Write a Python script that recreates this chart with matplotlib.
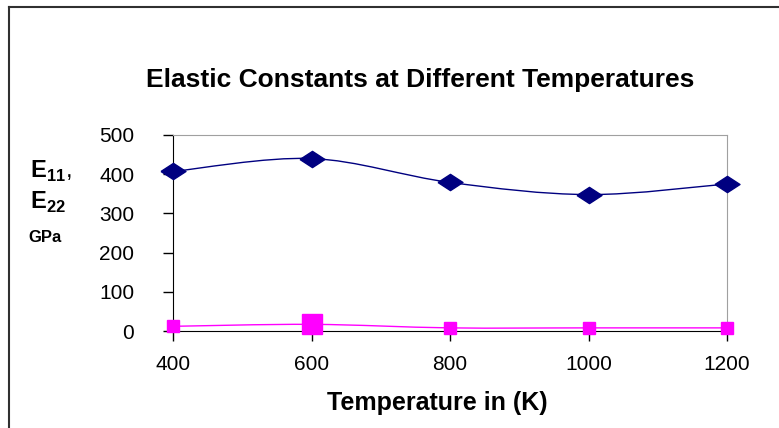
import matplotlib
matplotlib.use("Agg")
import matplotlib.pyplot as plt
import numpy as np
from matplotlib.path import Path
from matplotlib.patches import PathPatch
from matplotlib.lines import Line2D

# DONNEES
temps = [400, 600, 800, 1000, 1200]
e11 = [407, 440, 379, 348, 375]
e22 = [12, 17, 8, 8, 8]
xticks = [400, 600, 800, 1000, 1200]
yticks = [0, 100, 200, 300, 400, 500]

plt.rcParams['font.family'] = ['Liberation Sans', 'DejaVu Sans']
plt.rcParams['mathtext.fontset'] = 'custom'
plt.rcParams['mathtext.rm'] = 'Liberation Sans'
plt.rcParams['mathtext.bf'] = 'Liberation Sans:bold'


def smooth_path(x, y):
    # courbe lissee facon Excel (Catmull-Rom -> Bezier)
    p = np.column_stack([x, y]).astype(float)
    n = len(p)
    verts = [p[0]]
    codes = [Path.MOVETO]
    for i in range(n - 1):
        p0 = p[i - 1] if i > 0 else p[i]
        p3 = p[i + 2] if i + 2 < n else p[i + 1]
        c1 = p[i] + (p[i + 1] - p0) / 6
        c2 = p[i + 1] - (p3 - p[i]) / 6
        verts += [c1, c2, p[i + 1]]
        codes += [Path.CURVE4] * 3
    return Path(verts, codes)


fig = plt.figure(figsize=(7.79, 4.28), dpi=100)
ax = fig.add_axes([0.2221, 0.2266, 0.7112, 0.458])

# COURBES
ax.add_patch(PathPatch(smooth_path(temps, e11), fill=False, edgecolor="#000080", lw=1.0))
ax.add_patch(PathPatch(smooth_path(temps, e22), fill=False, edgecolor="#FF00FF", lw=1.0))

diamond = [(-1, 0), (0, 0.65), (1, 0), (0, -0.65), (-1, 0)]
ax.plot(temps, e11, linestyle="none", marker=diamond, ms=18, color="#000080", clip_on=False, zorder=5)
ax.plot(temps, e22, linestyle="none", marker="s", ms=8, color="#FF00FF", clip_on=False, zorder=5)
# point mis en evidence
ax.plot(temps[1], e22[1], linestyle="none", marker="s", ms=14, color="#FF00FF", clip_on=False, zorder=6)

# AXES
ax.set_xlim(400, 1200)
ax.set_ylim(0, 500)
ax.set_xticks(xticks)
ax.set_yticks(yticks)
ax.tick_params(axis="both", direction="out", length=7, width=1, labelsize=15)
ax.tick_params(axis="y", pad=21)
ax.tick_params(axis="x", pad=10)
ax.spines['top'].set_color("#a0a0a0")
ax.spines['right'].set_color("#a0a0a0")

# TEXTES
fig.text(0.539, 0.7967, "Elastic Constants at Different Temperatures",
         ha="center", va="baseline", fontsize=19, fontweight="bold")
fig.text(0.562, 0.042, "Temperature in (K)", ha="center", va="baseline",
         fontsize=18, fontweight="bold")
fig.text(0.038, 0.584, r"$\mathbf{E}_{\mathbf{11}}$,", ha="left", va="baseline", fontsize=17)
fig.text(0.038, 0.512, r"$\mathbf{E}_{\mathbf{22}}$", ha="left", va="baseline", fontsize=17)
fig.text(0.037, 0.4346, "GPa", ha="left", va="baseline", fontsize=12, fontweight="bold")

# CADRE
fig.add_artist(Line2D([0.011, 1.0], [0.983, 0.983], color="#303030", lw=1.5, transform=fig.transFigure))
fig.add_artist(Line2D([0.012, 0.012], [0.0, 0.983], color="#303030", lw=1.5, transform=fig.transFigure))

fig.savefig("out.png", dpi=100)
